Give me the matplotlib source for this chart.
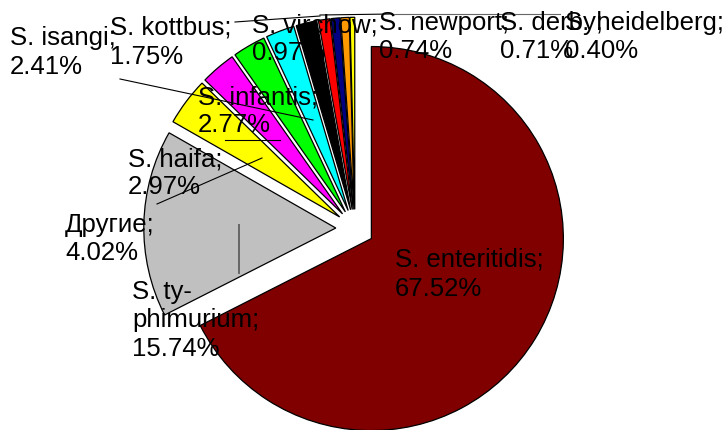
import matplotlib
matplotlib.use("Agg")
import matplotlib.pyplot as plt

# ---- data ----
names = ["S. enteritidis", "S. ty-\nphimurium", "Другие", "S. haifa", "S. infantis",
         "S. isangi", "S. kottbus", "S. virchow", "S. newport", "S. derby", "S. heidelberg"]
values = [67.52, 15.74, 4.02, 2.97, 2.77, 2.41, 1.75, 0.97, 0.74, 0.71, 0.40]
colors = ["#800000", "#C0C0C0", "#FFFF00", "#FF00FF", "#00FF00", "#00FFFF",
          "#000000", "#FF0000", "#000080", "#FF9900", "#FFFF00"]

# label anchor positions (image pixels: left x, first-line baseline y)
label_pos = [(395, 267), (132, 299), (65, 232), (128, 166), (198, 104),
             (10, 45), (110, 35), (252, 32), (379, 30), (500, 30), (565, 30)]
line_step = 28.5

W, H = 725, 430
fig = plt.figure(figsize=(W / 100, H / 100), dpi=100)
ax = fig.add_axes([0, 0, 1, 1])

R = 192
cx, cy = 355, H - 228.5
explode = [0.1 * R] * len(values)

ax.pie(values, colors=colors, startangle=90, counterclock=False,
       radius=R, center=(cx, cy), explode=explode,
       wedgeprops=dict(edgecolor="black", linewidth=0.9))
ax.set_xlim(0, W)
ax.set_ylim(0, H)
ax.set_aspect("equal")
ax.axis("off")

# leader lines (image pixel coords)
leaders = [
    ((239, 225), (239, 273), "#666666", 1.4),
    ((157, 204), (262, 158), "black", 0.8),
    ((225, 140), (280, 140), "black", 0.8),
    ((120, 79), (313, 120), "black", 0.8),
    ((235, 22), (320, 16), "black", 0.8),
    ((320, 15), (392, 14), "black", 0.8),
    ((392, 14), (560, 14), "#666666", 0.8),
]
for (x0, y0), (x1, y1), c, lw in leaders:
    ax.plot([x0, x1], [H - y0, H - y1], color=c, lw=lw, zorder=5)

for name, v, (lx, ly) in zip(names, values, label_pos):
    lines = f"{name};\n{v:.2f}%".split("\n")
    for i, s in enumerate(lines):
        ax.text(lx, H - (ly + i * line_step), s, ha="left", va="baseline",
                fontsize=18.5, family=["Liberation Sans", "DejaVu Sans"],
                color="black", zorder=6)

fig.savefig("out.png", dpi=100)
